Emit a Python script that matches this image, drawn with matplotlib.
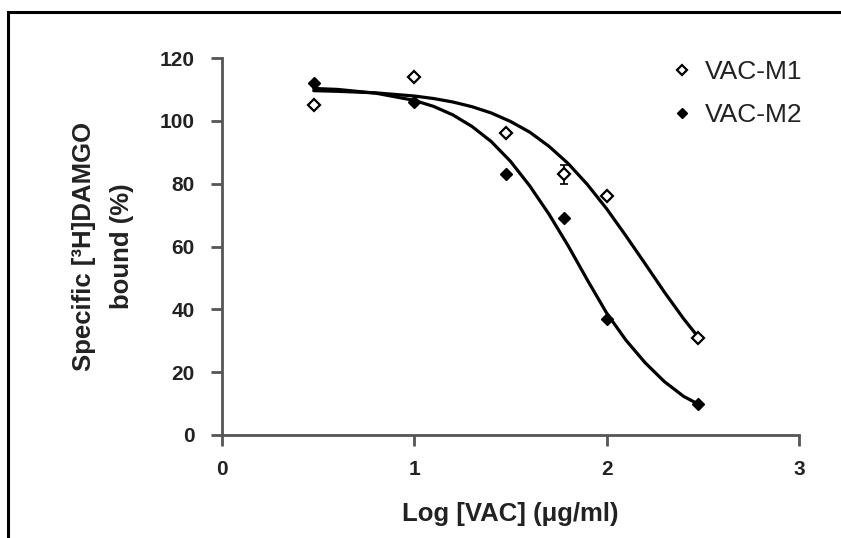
import matplotlib
matplotlib.use("Agg")
import matplotlib.pyplot as plt
from matplotlib.patches import Rectangle

# ---- data ----
log_conc = [0.477, 1.0, 1.477, 1.778, 2.0, 2.477]
m1_vals = [105, 114, 96, 83, 76, 31]
m1_err = [0, 0, 0, 3, 0, 0]
m2_vals = [112, 106, 83, 69, 37, 10]

curve_x = [0.477, 0.6, 0.8, 1.0, 1.1, 1.2, 1.3, 1.4, 1.5, 1.6, 1.7, 1.8, 1.9, 2.0,
           2.1, 2.2, 2.3, 2.4, 2.477]
m1_curve = [109.6, 109.4, 108.9, 107.9, 107.1, 106.0, 104.5, 102.5, 99.8, 96.4,
            91.9, 86.4, 79.7, 72.0, 63.4, 54.5, 45.5, 37.0, 31.1]
m2_curve = [110.3, 110.0, 108.8, 106.5, 104.6, 101.9, 98.2, 93.4, 87.1, 79.3,
            70.3, 60.2, 49.3, 38.8, 30.2, 23.0, 17.0, 12.3, 9.8]

x_ticks = [0, 1, 2, 3]
y_ticks = [0, 20, 40, 60, 80, 100, 120]
series_names = ["VAC-M1", "VAC-M2"]

plt.rcParams['font.family'] = ['Liberation Sans', 'DejaVu Sans']

fig = plt.figure(figsize=(8.41, 5.38), dpi=100)
W, H = 841, 538

# outer frame
fig.patches.append(Rectangle((8 / W, -0.2), 1.2, 1 - 12 / H + 0.2,
                             transform=fig.transFigure, fill=False,
                             edgecolor='black', linewidth=2.2))

ax = fig.add_axes([222 / W, (H - 435) / H, 577 / W, 377 / H])

ax.plot(curve_x, m1_curve, color='black', lw=2.3, solid_capstyle='round', zorder=2)
ax.plot(curve_x, m2_curve, color='black', lw=2.3, solid_capstyle='round', zorder=2)

ax.errorbar(log_conc, m1_vals, yerr=m1_err, fmt='none', ecolor='black',
            elinewidth=1.2, capsize=3, capthick=1.2, zorder=3)
ax.plot(log_conc, m1_vals, linestyle='none', marker='D', markersize=6.5,
        markerfacecolor='white', markeredgecolor='black', markeredgewidth=1.6,
        label=series_names[0], zorder=4)
ax.plot(log_conc, m2_vals, linestyle='none', marker='D', markersize=6.5,
        markerfacecolor='black', markeredgecolor='black',
        label=series_names[1], zorder=4)

ax.set_xlim(0, 3)
ax.set_ylim(0, 120)
ax.set_xticks(x_ticks)
ax.set_yticks(y_ticks)
ax.set_xticklabels([str(t) for t in x_ticks], fontsize=15, fontweight='bold')
ax.set_yticklabels([str(t) for t in y_ticks], fontsize=15, fontweight='bold')

for s in ['top', 'right']:
    ax.spines[s].set_visible(False)
for s in ['left', 'bottom']:
    ax.spines[s].set_color('#555555')
    ax.spines[s].set_linewidth(2.0)
ax.tick_params(axis='both', direction='out', length=8, width=2.0,
               color='#555555', labelcolor='#222222')
ax.tick_params(axis='y', pad=11.5)
ax.tick_params(axis='x', pad=10)
ax.patch.set_visible(False)

ax.set_xlabel('Log [VAC] (\u03bcg/ml)', fontsize=18.5, fontweight='bold',
              color='#222222', va='top')
ax.xaxis.set_label_coords(0.5, -0.178)
ax.set_ylabel('Specific [\u00b3H]DAMGO\nbound (%)', fontsize=18.5,
              fontweight='bold', color='#222222', linespacing=1.75)
ax.yaxis.set_label_coords(-0.152, 0.5)

leg = ax.legend(loc='upper left', bbox_to_anchor=(0.776, 0.995), frameon=False,
                fontsize=19, handletextpad=0.45, handlelength=0.9,
                labelspacing=0.72, borderaxespad=0, borderpad=0,
                markerscale=0.85)
for t in leg.get_texts():
    t.set_color('#222222')

fig.savefig('out.png', dpi=100)
